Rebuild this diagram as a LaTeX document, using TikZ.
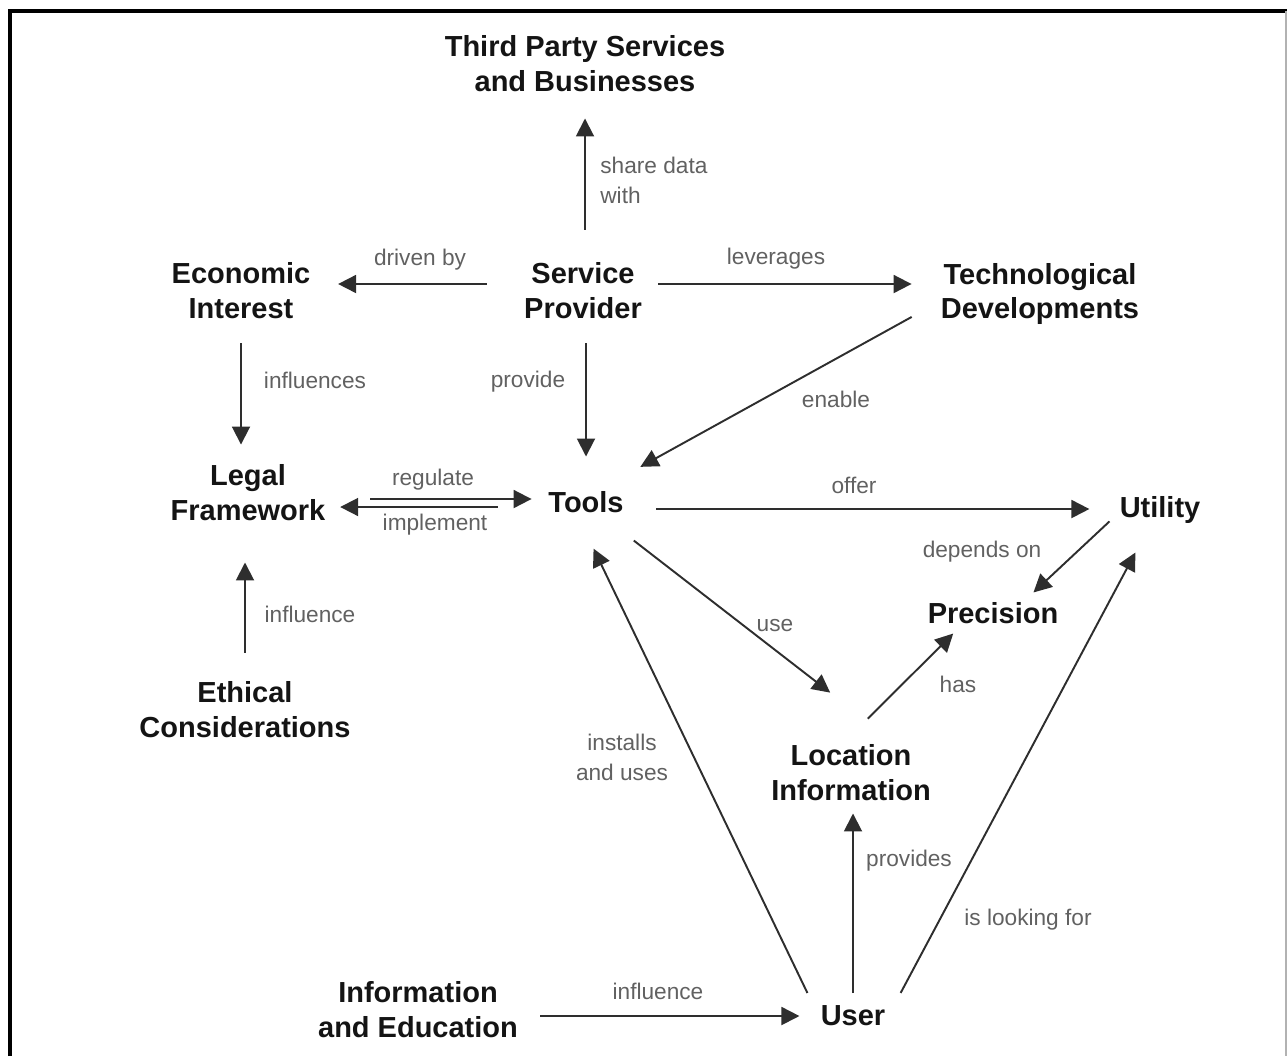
\documentclass[tikz,border=0pt]{standalone}
\usepackage{fontspec}
\setmainfont{Liberation Sans}
\usetikzlibrary{arrows.meta}

\begin{document}
\begin{tikzpicture}[x=0.02cm,y=-0.02cm,
    concept/.style={font=\fontsize{16.5}{19.9}\selectfont\bfseries, text=black!92, align=center, inner sep=0pt},
    rel/.style={font=\fontsize{12.9}{17}\selectfont, text=black!62, inner sep=0pt},
    link/.style={draw=black!82, line width=1.1pt, -{Triangle[length=0.36cm,width=0.36cm]}}]
    \useasboundingbox (0,0) rectangle (1287,1056);

    % frame
    \draw[line width=0.07cm] (10,1056) -- (10,11) -- (1287,11);
    \draw[black!30, line width=0.03cm] (1286,11) -- (1286,1056);

    % concepts
    \node[concept] (third) at (585,63.5) {Third Party Services\\and Businesses};
    \node[concept] (sp) at (583,290.5) {Service\\Provider};
    \node[concept] (econ) at (241,290.5) {Economic\\Interest};
    \node[concept] (tech) at (1040,294) {Technological\\Developments};
    \node[concept] (legal) at (248,493) {Legal\\Framework};
    \node[concept] (tools) at (586,502) {Tools};
    \node[concept] (utility) at (1160,510) {Utility};
    \node[concept] (precision) at (993,613) {Precision};
    \node[concept] (ethical) at (245,710) {Ethical\\Considerations};
    \node[concept] (location) at (851,772.5) {Location\\Information};
    \node[concept] (infoedu) at (418,1010) {Information\\and Education};
    \node[concept] (user) at (853,1016) {User};

    % relations
    \draw[link, shorten <=0.65cm, shorten >=0.53cm] (third.south |- sp.north) -- (third.south);
    \draw[link, shorten <=0.74cm, shorten >=0.55cm] (sp.west |- 0,284) -- (econ.east |- 0,284);
    \draw[link, shorten <=0.32cm, shorten >=0.58cm] (sp.east |- 0,284) -- (tech.west |- 0,284);
    \draw[link, shorten <=0.49cm, shorten >=0.4cm] (econ.south) -- (econ.south |- legal.north);
    \draw[link, shorten <=0.49cm, shorten >=0.69cm] (tools.north |- sp.south) -- (tools.north);
    \draw[link, shorten <=0.66cm, shorten >=1.0cm] (tech.184) -- (tools.46);
    \draw[link, shorten <=0.89cm, shorten >=0.33cm] (legal.east |- 0,499) -- (tools.west |- 0,499);
    \draw[link, shorten <=1.01cm, shorten >=0.29cm] (tools.west |- 0,507) -- (legal.east |- 0,507);
    \draw[link, shorten <=0.65cm, shorten >=0.6cm] (tools.east |- 0,509) -- (utility.west |- 0,509);
    \draw[link, shorten <=0.27cm, shorten >=0.28cm] (utility.183) -- (precision.20);
    \draw[link, shorten <=0.58cm, shorten >=0.82cm] (ethical.north) -- (ethical.north |- legal.south);
    \draw[link, shorten <=0.9cm, shorten >=1.68cm] (tools.318) -- (location.32);
    \draw[link, shorten <=0.72cm, shorten >=0.27cm] (location.107) -- (precision.200);
    \draw[link, shorten <=0.6cm, shorten >=0.79cm] (user.187) -- (tools.229);
    \draw[link, shorten <=0.25cm, shorten >=0.25cm] (user.north) -- (user.north |- location.south);
    \draw[link, shorten <=0.64cm, shorten >=0.65cm] (user.351) -- (utility.236);
    \draw[link, shorten <=0.44cm, shorten >=0.42cm] (infoedu.east |- user.west) -- (user.west);

    % labels
    \node[rel, anchor=west, align=left] (l-share) at (600,180) {share data\\with};
    \node[rel] (l-driven) at (420,260) {driven by};
    \node[rel] (l-leverages) at (776,259) {leverages};
    \node[rel] (l-influences) at (315,380) {influences};
    \node[rel] (l-provide) at (528,382) {provide};
    \node[rel] (l-enable) at (836,399) {enable};
    \node[rel] (l-regulate) at (433,480) {regulate};
    \node[rel] (l-implement) at (435,525) {implement};
    \node[rel] (l-offer) at (854,485) {offer};
    \node[rel] (l-depends) at (982,552) {depends on};
    \node[rel] (l-influence) at (310,614) {influence};
    \node[rel] (l-use) at (775,625) {use};
    \node[rel] (l-has) at (958,684) {has};
    \node[rel, align=center] (l-installs) at (622,757) {installs\\and uses};
    \node[rel] (l-provides) at (909,861) {provides};
    \node[rel] (l-looking) at (1028,920) {is looking for};
    \node[rel] (l-educ) at (658,991) {influence};
\end{tikzpicture}
\end{document}
